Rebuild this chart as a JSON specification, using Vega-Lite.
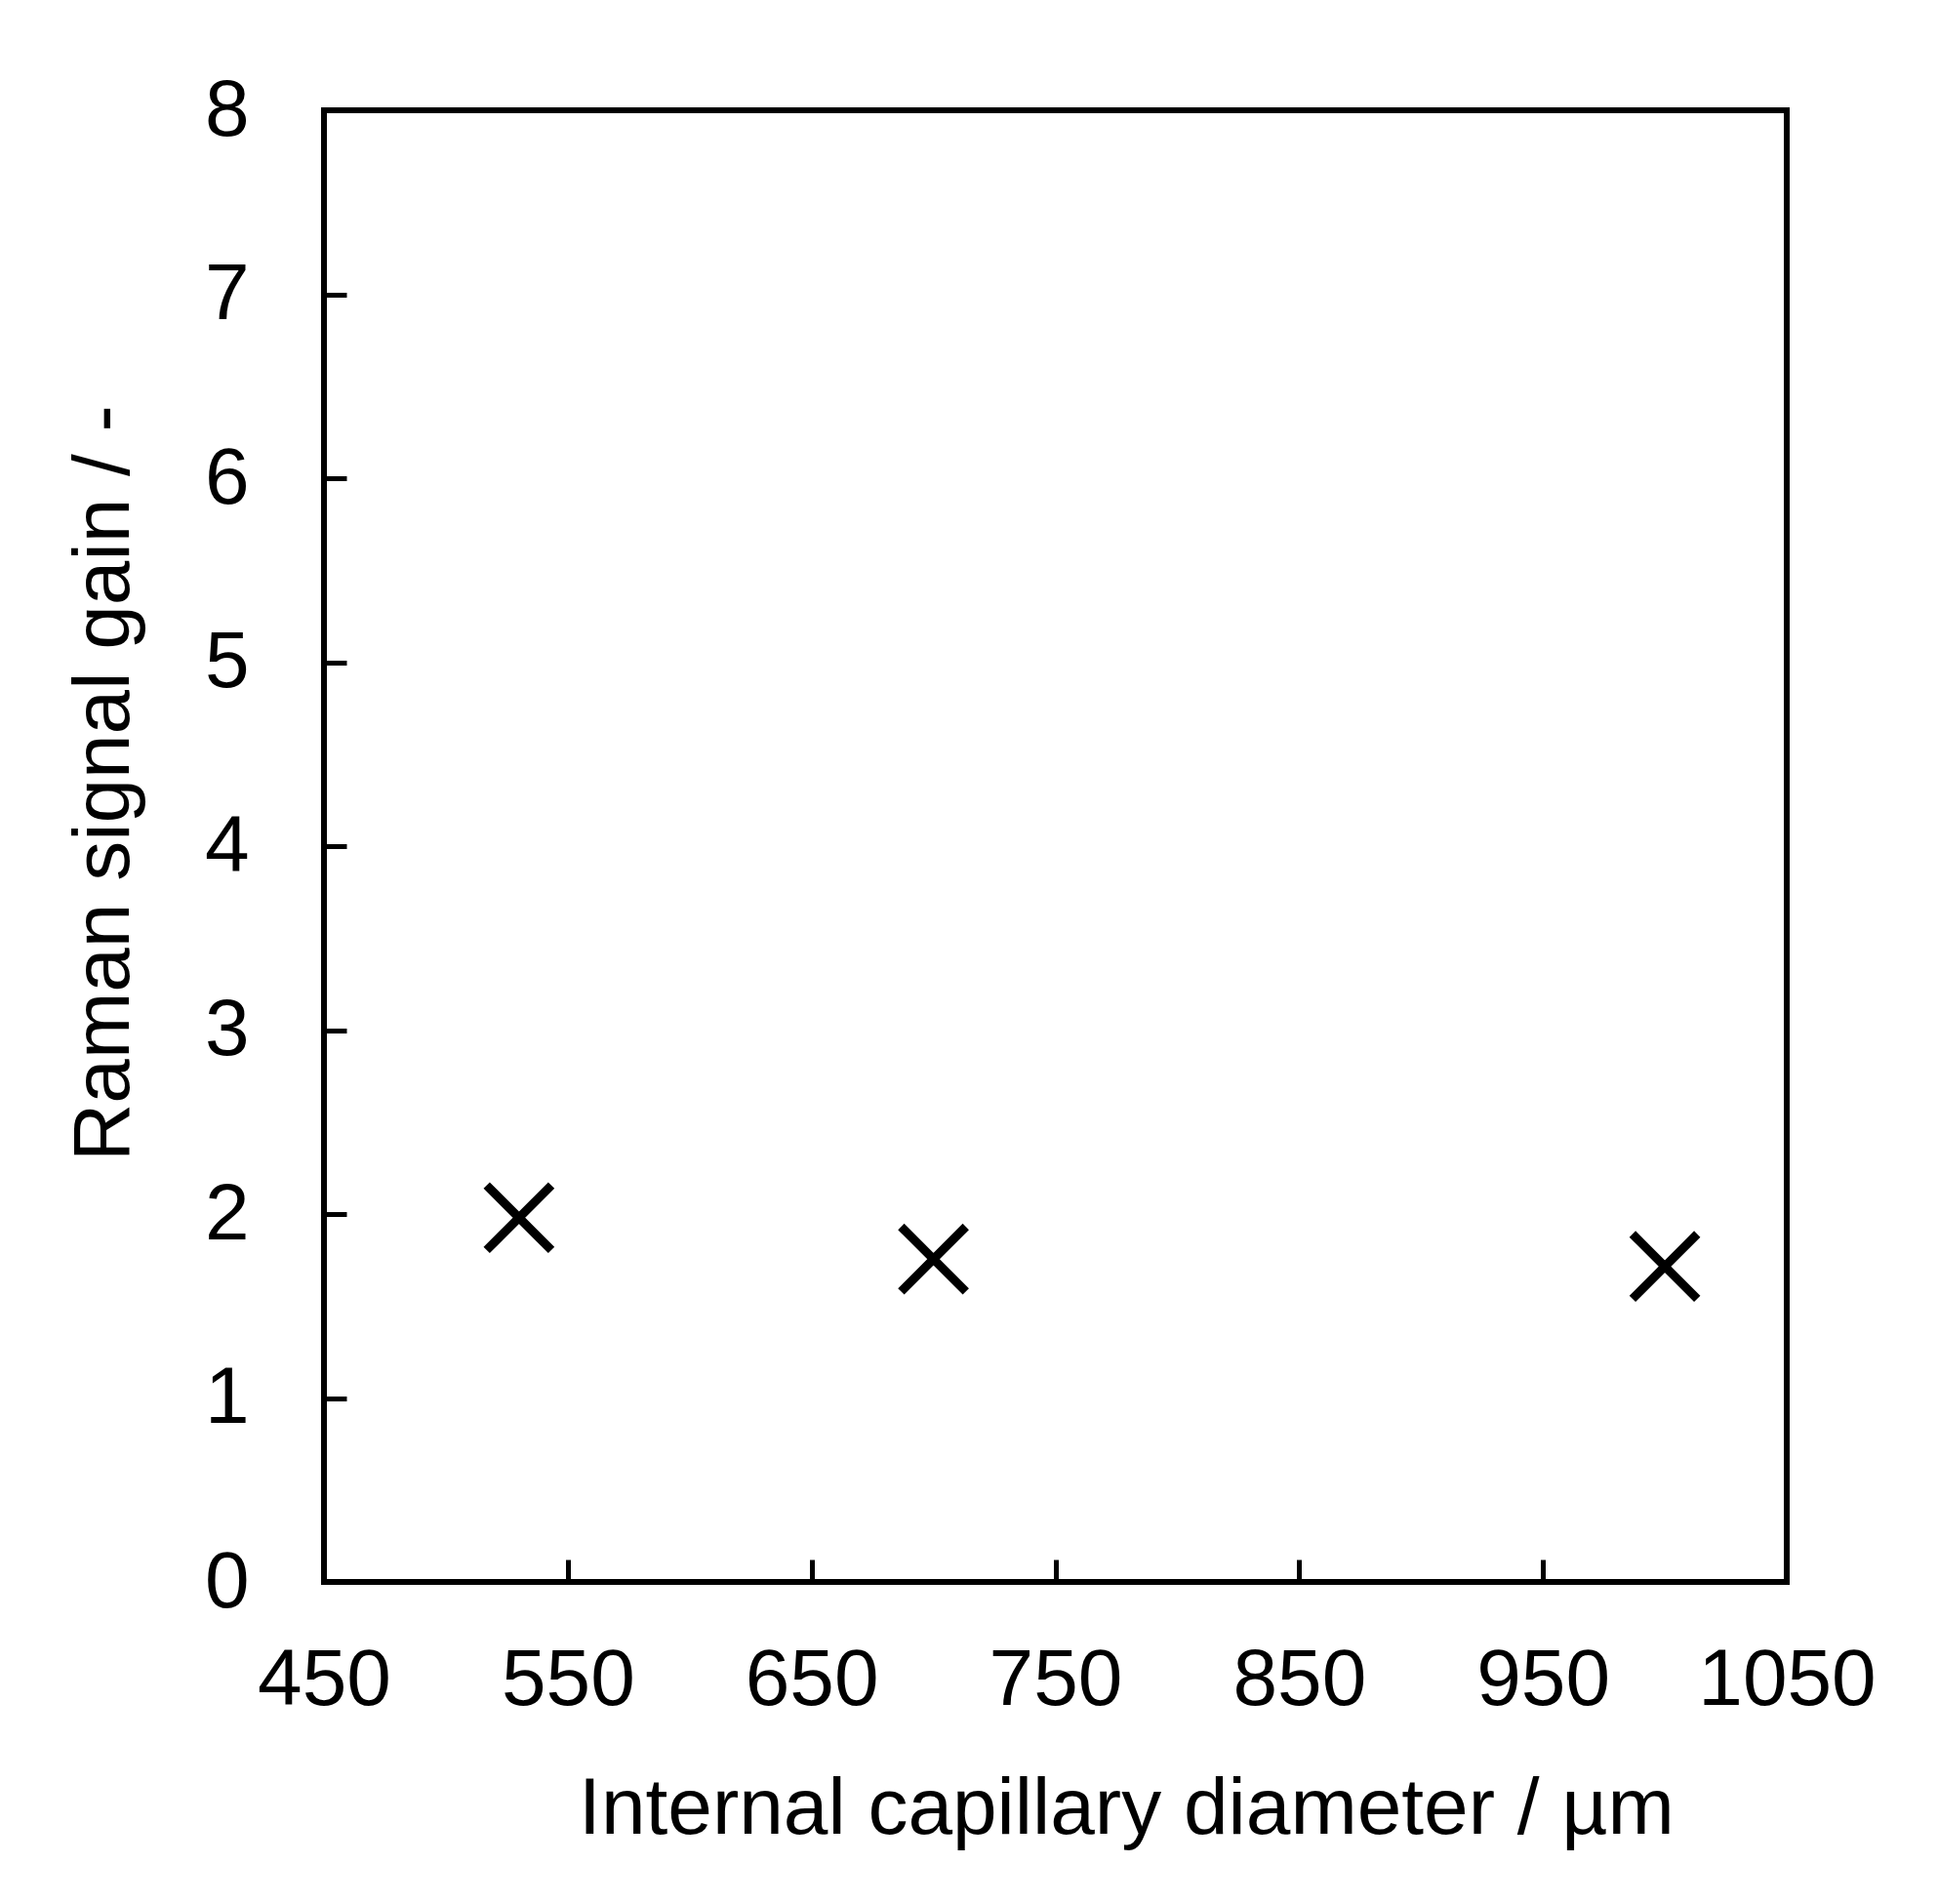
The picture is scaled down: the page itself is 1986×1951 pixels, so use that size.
{
  "$schema": "https://vega.github.io/schema/vega-lite/v6.json",
  "autosize": {"type": "none"},
  "width": 1499,
  "height": 1508,
  "padding": {"left": 332, "top": 113, "right": 155, "bottom": 330},
  "background": "white",
  "config": {
    "view": {"stroke": "black", "strokeWidth": 6},
    "font": "Liberation Sans"
  },
  "data": {
    "values": [
      {"diameter": 530, "gain": 1.98},
      {"diameter": 700, "gain": 1.755},
      {"diameter": 1000, "gain": 1.715}
    ]
  },
  "mark": {
    "type": "point",
    "shape": "M-1,-1L1,1M-1,1L1,-1",
    "size": 4400,
    "stroke": "black",
    "strokeWidth": 9,
    "filled": false,
    "opacity": 1
  },
  "encoding": {
    "x": {
      "field": "diameter",
      "type": "quantitative",
      "scale": {"domain": [450, 1050], "nice": false, "zero": false},
      "axis": {
        "title": "Internal capillary diameter / µm",
        "values": [450, 550, 650, 750, 850, 950, 1050],
        "format": "d",
        "grid": false,
        "domain": false,
        "tickSize": -23,
        "tickWidth": 5,
        "tickColor": "black",
        "labelFont": "Liberation Sans",
        "labelFontSize": 82,
        "labelColor": "black",
        "labelBaseline": "alphabetic",
        "labelPadding": 148,
        "labelFlush": false,
        "labelOverlap": false,
        "labelLimit": 0,
        "titleFont": "Liberation Sans",
        "titleFontSize": 82,
        "titleFontWeight": "normal",
        "titleColor": "black",
        "titleBaseline": "alphabetic",
        "titleAlign": "center",
        "titleAnchor": null,
        "titleX": 822,
        "titleY": 257,
        "titleLimit": 0
      }
    },
    "y": {
      "field": "gain",
      "type": "quantitative",
      "scale": {"domain": [0, 8], "nice": false},
      "axis": {
        "title": "Raman signal gain / -",
        "values": [0, 1, 2, 3, 4, 5, 6, 7, 8],
        "format": "d",
        "grid": false,
        "domain": false,
        "tickSize": -23,
        "tickWidth": 5,
        "tickColor": "black",
        "labelFont": "Liberation Sans",
        "labelFontSize": 82,
        "labelColor": "black",
        "labelBaseline": "middle",
        "labelPadding": 100,
        "labelFlush": false,
        "labelOverlap": false,
        "labelLimit": 0,
        "titleFont": "Liberation Sans",
        "titleFontSize": 82,
        "titleFontWeight": "normal",
        "titleColor": "black",
        "titleBaseline": "alphabetic",
        "titleAlign": "center",
        "titleAngle": -90,
        "titleAnchor": null,
        "titleX": -201,
        "titleY": 689,
        "titleLimit": 0
      }
    }
  }
}
